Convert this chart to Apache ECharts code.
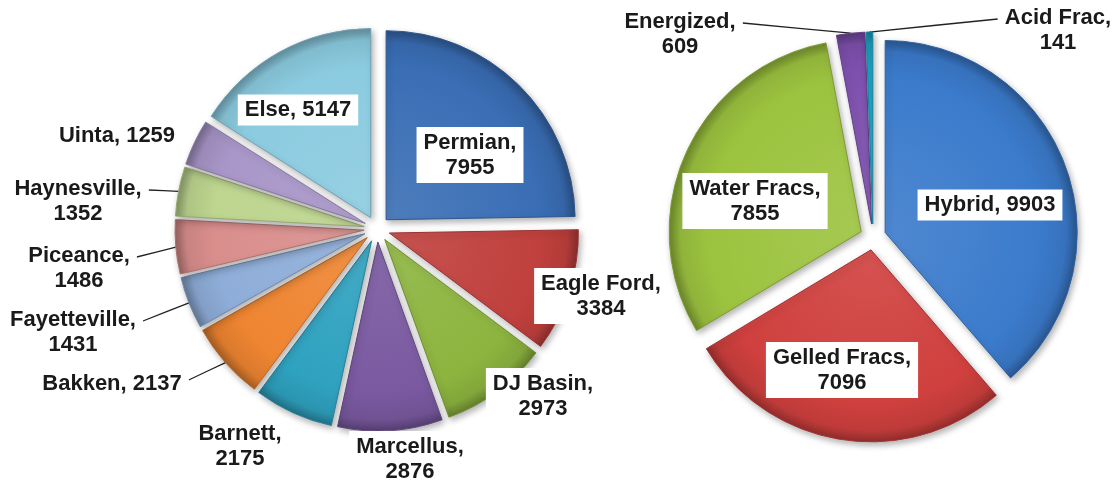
<!DOCTYPE html>
<html>
<head>
<meta charset="utf-8">
<script src="https://cdn.jsdelivr.net/npm/echarts@6/dist/echarts.min.js"></script>
<style>
html, body { margin: 0; padding: 0; background: #fff; }
#main { width: 1115px; height: 485px; }
</style>
</head>
<body>
<div id="main"></div>
<script>
// left pie: wells per basin
const basinNames = ['Permian', 'Eagle Ford', 'DJ Basin', 'Marcellus', 'Barnett', 'Bakken',
	'Fayetteville', 'Piceance', 'Haynesville', 'Uinta', 'Else']
const basinValues = [7955, 3384, 2973, 2876, 2175, 2137, 1431, 1486, 1352, 1259, 5147]

// right pie: frac types
const fracNames = ['Hybrid', 'Gelled Fracs', 'Water Fracs', 'Energized', 'Acid Frac']
const fracValues = [9903, 7096, 7855, 609, 141]

const basinColors = ['#3A6EB5', '#C0403D', '#8DB43F', '#7A59A0', '#2FA2C0', '#EE8531',
	'#8EADD8', '#D98E8C', '#BDD58F', '#A896C8', '#8BCBE0']
const fracColors = ['#3B7BCC', '#CF403E', '#9CC33F', '#7E50AE', '#1BA4C6']

// where Excel put each label (centre of the text block)
const labelPos = {
	'Permian': [470, 155],
	'Eagle Ford': [601, 296],
	'DJ Basin': [543, 396],
	'Marcellus': [410, 459],
	'Barnett': [240, 446],
	'Bakken': [112, 384],
	'Fayetteville': [73, 332],
	'Piceance': [79, 268],
	'Haynesville': [78, 201],
	'Uinta': [117, 136],
	'Else': [298, 110],
	'Hybrid': [990, 205],
	'Gelled Fracs': [842, 370],
	'Water Fracs': [755, 201],
	'Energized': [680, 34],
	'Acid Frac': [1058, 30],
}
const withLine = ['Haynesville', 'Piceance', 'Fayetteville', 'Bakken', 'Energized', 'Acid Frac']
const oneLine = ['Else', 'Uinta', 'Bakken', 'Hybrid']

// explode distance of every slice, px
const EXPLODE = 13

/**
 * lighten (p>0) or darken (p<0) a hex colour
 */
function shade(hex, p) {
	hex = hex.replace('#', '')
	const c = [0, 2, 4].map(i => parseInt(hex.substring(i, i + 2), 16))
	const t = p < 0 ? 0 : 255
	const a = Math.abs(p)
	return 'rgb(' + c.map(v => Math.round(v + (t - v) * a)).join(',') + ')'
}

// bevel-ish look: light inside, dark rim
function bevel(hex, cx, cy, r) {
	return {
		type: 'radial', x: cx, y: cy, r: r, global: true,
		colorStops: [
			{ offset: 0, color: shade(hex, 0.1) },
			{ offset: 0.8, color: hex },
			{ offset: 0.94, color: shade(hex, -0.08) },
			{ offset: 1, color: shade(hex, -0.3) },
		]
	}
}

/**
 * one pie series per slice, each with its centre pushed out along the slice's middle angle
 * (select/selectedOffset breaks labelLayout positions, so explode by hand)
 */
function makeExplodedPie(names, values, colors, center, radius) {
	const total = values.reduce((a, b) => a + b, 0)
	let acc = 0
	return names.map((name, k) => {
		const mid = (acc + values[k] / 2) / total * Math.PI * 2
		acc += values[k]
		const c = [center[0] + EXPLODE * Math.sin(mid), center[1] - EXPLODE * Math.cos(mid)]
		return {
			type: 'pie',
			center: c,
			radius: radius,
			startAngle: 90,
			avoidLabelOverlap: false,
			silent: true,
			animation: false,
			label: {
				show: true,
				position: 'outside',
				formatter: p => oneLine.includes(p.name) ? p.name + ', ' + p.value : p.name + ',\n' + p.value,
				fontFamily: 'Liberation Sans, Arial, sans-serif',
				fontWeight: 'bold',
				fontSize: 22,
				lineHeight: 25,
				color: '#1a1a1a',
				backgroundColor: '#fff',
				padding: [3, 7],
				align: 'center',
			},
			labelLine: {
				show: false,
				length: 6,
				length2: 0,
				lineStyle: { color: '#222', width: 1.3 }
			},
			labelLayout: p => {
				const n = names[p.dataIndex]
				const pos = labelPos[n]
				const out = { x: pos[0], y: pos[1], align: 'center', verticalAlign: 'middle' }
				// leader line: from the slice edge to the first text line of the label
				if (withLine.includes(n) && p.labelLinePoints) {
					const a = p.labelLinePoints[0]
					const half = p.labelRect.width / 2
					const endX = a[0] < pos[0] ? pos[0] - half : pos[0] + half
					const endY = oneLine.includes(n) ? pos[1] - 4 : pos[1] - 11
					out.labelLinePoints = [a, [(a[0] + endX) / 2, (a[1] + endY) / 2], [endX, endY]]
				}
				return out
			},
			data: names.map((n, i) => i === k ? {
				name: n,
				value: values[i],
				itemStyle: {
					color: bevel(colors[i], c[0], c[1], radius),
					borderColor: shade(colors[i], -0.2),
					borderWidth: 1,
					shadowBlur: 6,
					shadowOffsetX: 2,
					shadowOffsetY: 3,
					shadowColor: 'rgba(0,0,0,0.3)'
				},
				labelLine: { show: withLine.includes(n) }
			} : {
				name: n,
				value: values[i],
				itemStyle: { color: 'rgba(0,0,0,0)', borderWidth: 0 },
				label: { show: false },
				labelLine: { show: false }
			})
		}
	})
}

const chart = echarts.init(document.getElementById('main'))
chart.setOption({
	backgroundColor: '#fff',
	series: [
		...makeExplodedPie(basinNames, basinValues, basinColors, [377, 229], 189),
		...makeExplodedPie(fracNames, fracValues, fracColors, [873, 237], 192),
	]
})
</script>
</body>
</html>
